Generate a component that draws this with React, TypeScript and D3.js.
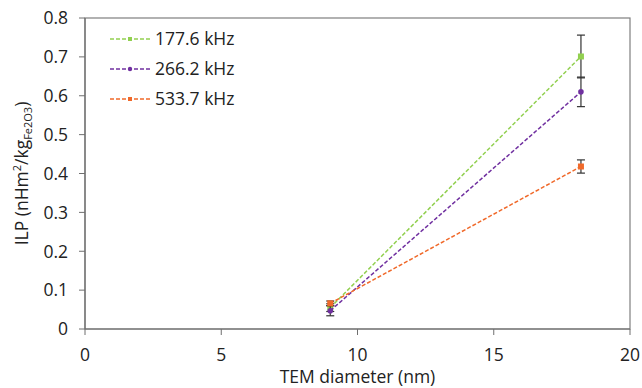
import * as d3 from "d3";

const diameters = [9.0, 18.2];
const seriesNames = ["177.6 kHz", "266.2 kHz", "533.7 kHz"];
const seriesColors = ["#92D050", "#7030A0", "#F0692A"];
const ilp177 = [0.055, 0.701];
const ilp266 = [0.047, 0.61];
const ilp533 = [0.066, 0.418];
const err177 = [0.01, 0.055];
const err266 = [0.013, 0.038];
const err533 = [0.006, 0.017];
const xTicks = [0, 5, 10, 15, 20];
const yTicks = [0, 0.1, 0.2, 0.3, 0.4, 0.5, 0.6, 0.7, 0.8];

const W = 642;
const H = 388;
const margin = { left: 85, right: 12, top: 18, bottom: 59 };
const font = "'Open Sans', sans-serif";
const fs = 17.5;

export default function App() {
  const x = d3.scaleLinear().domain([0, 20]).range([margin.left, W - margin.right]);
  const y = d3.scaleLinear().domain([0, 0.8]).range([H - margin.bottom, margin.top]);
  const values = [ilp177, ilp266, ilp533];
  const errs = [err177, err266, err533];
  const line = d3
    .line<number>()
    .x((_, i) => x(diameters[i]))
    .y((d) => y(d));

  return (
    <svg
      width={W}
      height={H}
      style={{ position: "fixed", left: 0, top: 0, background: "#fff" }}
      fontFamily={font}
    >
      {/* frame */}
      <rect
        x={x(0)}
        y={y(0.8)}
        width={x(20) - x(0)}
        height={y(0) - y(0.8)}
        fill="none"
        stroke="#7f7f7f"
        strokeWidth={1.2}
      />
      <line x1={x(0)} x2={x(0)} y1={y(0)} y2={y(0.8)} stroke="#6f6f6f" strokeWidth={1.2} />
      <line x1={x(0)} x2={x(20)} y1={y(0)} y2={y(0)} stroke="#6f6f6f" strokeWidth={1.2} />

      {yTicks.map((t) => (
        <g key={t}>
          <line x1={x(0) - 6} x2={x(0)} y1={y(t)} y2={y(t)} stroke="#6f6f6f" />
          <text x={x(0) - 17} y={y(t)} dy="0.36em" textAnchor="end" fontSize={fs} fill="#222">
            {t === 0 ? "0" : d3.format(".1f")(t)}
          </text>
        </g>
      ))}
      {xTicks.map((t) => (
        <g key={t}>
          <line x1={x(t)} x2={x(t)} y1={y(0)} y2={y(0) + 6} stroke="#6f6f6f" />
          <text x={x(t)} y={y(0) + 32} textAnchor="middle" fontSize={fs} fill="#222">
            {t}
          </text>
        </g>
      ))}

      <text x={(x(0) + x(20)) / 2} y={H - 5} textAnchor="middle" fontSize={fs} fill="#222">
        TEM diameter (nm)
      </text>
      <text
        transform={`translate(28,${(y(0) + y(0.8)) / 2}) rotate(-90)`}
        textAnchor="middle"
        fontSize={fs}
        fill="#222"
      >
        ILP (nHm<tspan dy={-7} fontSize={11}>2</tspan>
        <tspan dy={7}>/kg</tspan>
        <tspan dy={4} fontSize={11}>Fe2O3</tspan>
        <tspan dy={-4}>)</tspan>
      </text>

      {values.map((vals, si) => (
        <g key={si}>
          <path
            d={line(vals) ?? ""}
            fill="none"
            stroke={seriesColors[si]}
            strokeWidth={1.5}
            strokeDasharray="4 2"
          />
          {vals.map((v, i) => (
            <g key={i}>
              <line
                x1={x(diameters[i])}
                x2={x(diameters[i])}
                y1={y(v - errs[si][i])}
                y2={y(v + errs[si][i])}
                stroke="#333"
                strokeWidth={1.2}
              />
              {[v - errs[si][i], v + errs[si][i]].map((e, k) => (
                <line
                  key={k}
                  x1={x(diameters[i]) - 4}
                  x2={x(diameters[i]) + 4}
                  y1={y(e)}
                  y2={y(e)}
                  stroke="#333"
                  strokeWidth={1.2}
                />
              ))}
              {si === 1 ? (
                <circle cx={x(diameters[i])} cy={y(v)} r={2.8} fill={seriesColors[si]} />
              ) : (
                <rect
                  x={x(diameters[i]) - 3}
                  y={y(v) - 3}
                  width={6}
                  height={6}
                  fill={seriesColors[si]}
                />
              )}
            </g>
          ))}
        </g>
      ))}

      {seriesNames.map((name, si) => {
        const ly = 39 + si * 30;
        return (
          <g key={name}>
            <line
              x1={110}
              x2={150}
              y1={ly}
              y2={ly}
              stroke={seriesColors[si]}
              strokeWidth={1.5}
              strokeDasharray="4 2"
            />
            {si === 1 ? (
              <circle cx={130} cy={ly} r={2.2} fill={seriesColors[si]} />
            ) : (
              <rect x={128} y={ly - 2} width={4} height={4} fill={seriesColors[si]} />
            )}
            <text x={155} y={ly} dy="0.36em" fontSize={fs} fill="#222">
              {name}
            </text>
          </g>
        );
      })}
    </svg>
  );
}
